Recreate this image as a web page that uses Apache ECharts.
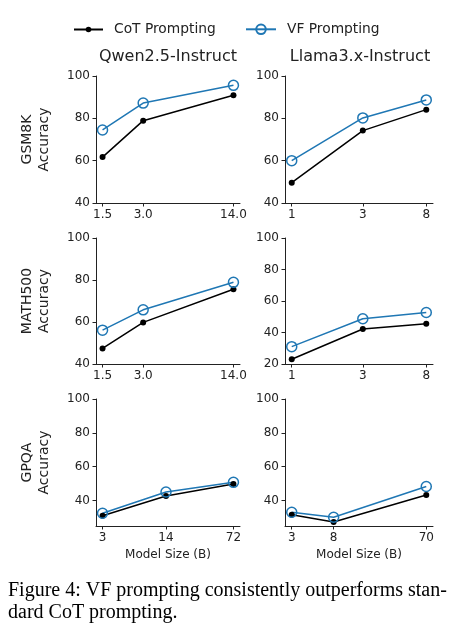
<!DOCTYPE html>
<html>
<head>
    <meta charset="utf-8">
    <title>VF vs CoT Prompting</title>
    <script src="https://cdn.jsdelivr.net/npm/echarts@6.0.0/dist/echarts.min.js"></script>
    <style>
        html, body { margin: 0; padding: 0; background: #fff; }
        #chart { width: 471px; height: 639px; }
    </style>
</head>
<body>
    <div id="chart"></div>

    <script type="text/javascript">
        // model sizes (B) and their tick labels
        var qwenSizes = [1.5, 3, 14];
        var qwenSizeLabels = ['1.5', '3.0', '14.0'];
        var llamaSizes = [1, 3, 8];
        var llamaSizeLabels = ['1', '3', '8'];
        var qwenGpqaSizes = [3, 14, 72];
        var qwenGpqaLabels = ['3', '14', '72'];
        var llamaGpqaSizes = [3, 8, 70];
        var llamaGpqaLabels = ['3', '8', '70'];

        // accuracy values
        var gsm8kQwenCot = [61.7, 78.9, 90.9];
        var gsm8kQwenVf = [74.5, 87.2, 95.6];
        var gsm8kLlamaCot = [49.6, 74.2, 84.1];
        var gsm8kLlamaVf = [60.0, 80.2, 88.7];

        var mathQwenCot = [47.4, 59.8, 75.6];
        var mathQwenVf = [56.1, 65.8, 78.9];
        var mathLlamaCot = [23.0, 42.2, 45.5];
        var mathLlamaVf = [31.0, 48.7, 52.7];

        var gpqaQwenCot = [31.1, 42.7, 49.8];
        var gpqaQwenVf = [32.5, 45.1, 50.8];
        var gpqaLlamaCot = [31.7, 27.4, 43.3];
        var gpqaLlamaVf = [33.1, 30.2, 48.3];

        var yTicks4060 = [40, 60, 80, 100];
        var yTicks20 = [20, 40, 60, 80, 100];

        var colTitles = ['Qwen2.5-Instruct', 'Llama3.x-Instruct'];
        var rowNames = ['GSM8K\nAccuracy', 'MATH500\nAccuracy', 'GPQA\nAccuracy'];

        var panels = [
            {sizes: qwenSizes, labels: qwenSizeLabels, cot: gsm8kQwenCot, vf: gsm8kQwenVf, yMin: 40, yTicks: yTicks4060},
            {sizes: llamaSizes, labels: llamaSizeLabels, cot: gsm8kLlamaCot, vf: gsm8kLlamaVf, yMin: 40, yTicks: yTicks4060},
            {sizes: qwenSizes, labels: qwenSizeLabels, cot: mathQwenCot, vf: mathQwenVf, yMin: 40, yTicks: yTicks4060},
            {sizes: llamaSizes, labels: llamaSizeLabels, cot: mathLlamaCot, vf: mathLlamaVf, yMin: 20, yTicks: yTicks20},
            {sizes: qwenGpqaSizes, labels: qwenGpqaLabels, cot: gpqaQwenCot, vf: gpqaQwenVf, yMin: 25, yTicks: yTicks4060},
            {sizes: llamaGpqaSizes, labels: llamaGpqaLabels, cot: gpqaLlamaCot, vf: gpqaLlamaVf, yMin: 25, yTicks: yTicks4060}
        ];

        // layout (pixels)
        var colLeft = [96, 285];
        var colWidth = [144, 148];
        var rowTop = [76, 238, 399];
        var rowHeight = [127, 126, 127];

        var ink = '#222';
        var blue = '#1f77b4';
        var font = 'DejaVu Sans';

        var grids = [], xAxes = [], yAxes = [], series = [];

        panels.forEach(function (p, i) {
            var row = Math.floor(i / 2), col = i % 2;
            grids.push({
                left: colLeft[col], top: rowTop[row],
                width: colWidth[col], height: rowHeight[row],
                outerBoundsMode: 'none'
            });

            // matplotlib style 5% margin in log space
            var lo = Math.log10(p.sizes[0]), hi = Math.log10(p.sizes[p.sizes.length - 1]);
            var pad = (hi - lo) * 0.05;

            xAxes.push({
                type: 'log', gridIndex: i,
                min: Math.pow(10, lo - pad), max: Math.pow(10, hi + pad),
                axisLine: {show: true, lineStyle: {color: ink, width: 1}},
                axisTick: {show: true, length: 3.5, customValues: p.sizes, lineStyle: {color: ink}},
                minorTick: {show: false},
                splitLine: {show: false},
                axisLabel: {
                    customValues: p.sizes, color: ink, fontSize: 12, fontFamily: font, margin: 6,
                    formatter: function (v) {
                        for (var k = 0; k < p.sizes.length; k++) {
                            if (Math.abs(v - p.sizes[k]) < 1e-6 * p.sizes[k]) return p.labels[k];
                        }
                        return '';
                    }
                },
                name: row === 2 ? 'Model Size (B)' : '',
                nameLocation: 'middle', nameGap: 23,
                nameTextStyle: {color: ink, fontSize: 12, fontFamily: font}
            });

            yAxes.push({
                type: 'value', gridIndex: i, min: p.yMin, max: 100,
                axisLine: {show: true, lineStyle: {color: ink, width: 1}},
                axisTick: {show: true, length: 3.5, customValues: p.yTicks, lineStyle: {color: ink}},
                splitLine: {show: false},
                axisLabel: {customValues: p.yTicks, color: ink, fontSize: 12, fontFamily: font, margin: 6},
                name: col === 0 ? rowNames[row] : '',
                nameLocation: 'middle', nameRotate: 90, nameGap: 43,
                nameTextStyle: {color: ink, fontSize: 14, fontFamily: font, lineHeight: 17, align: 'center'}
            });

            series.push({
                name: 'CoT Prompting', type: 'line', xAxisIndex: i, yAxisIndex: i,
                data: p.sizes.map(function (s, k) { return [s, p.cot[k]]; }),
                symbol: 'circle', symbolSize: 6,
                itemStyle: {color: '#000'},
                lineStyle: {color: '#000', width: 1.5},
                emphasis: {disabled: true}, clip: false
            });
            series.push({
                name: 'VF Prompting', type: 'line', xAxisIndex: i, yAxisIndex: i,
                data: p.sizes.map(function (s, k) { return [s, p.vf[k]]; }),
                symbol: 'circle', symbolSize: 10,
                itemStyle: {color: 'none', borderColor: blue, borderWidth: 1.5},
                lineStyle: {color: blue, width: 1.5},
                emphasis: {disabled: true}, clip: false
            });
        });

        var legendText = {color: ink, fontSize: 13.8, fontFamily: font, padding: [0, 0, 0, 6]};

        var chart = echarts.init(document.getElementById('chart'));
        chart.setOption({
            animation: false,
            backgroundColor: '#fff',
            legend: [
                {data: ['CoT Prompting'], left: 73, top: 22.5, padding: 0, itemWidth: 29, itemHeight: 7, textStyle: legendText},
                {data: ['VF Prompting'], left: 245, top: 22, padding: 0, itemWidth: 30, itemHeight: 12, textStyle: legendText}
            ],
            grid: grids,
            xAxis: xAxes,
            yAxis: yAxes,
            series: series,
            graphic: [
                {type: 'text', x: 168, y: 57, style: {text: colTitles[0], font: '16px "DejaVu Sans"', fill: ink, textAlign: 'center', textVerticalAlign: 'middle'}},
                {type: 'text', x: 360, y: 57, style: {text: colTitles[1], font: '16px "DejaVu Sans"', fill: ink, textAlign: 'center', textVerticalAlign: 'middle'}},
                {type: 'text', x: 8, y: 580, style: {
                    text: 'Figure 4: VF prompting consistently outperforms stan-\ndard CoT prompting.',
                    font: '20px "Liberation Serif"', fill: '#000', lineHeight: 22, textVerticalAlign: 'top'
                }}
            ]
        });
    </script>
</body>
</html>
